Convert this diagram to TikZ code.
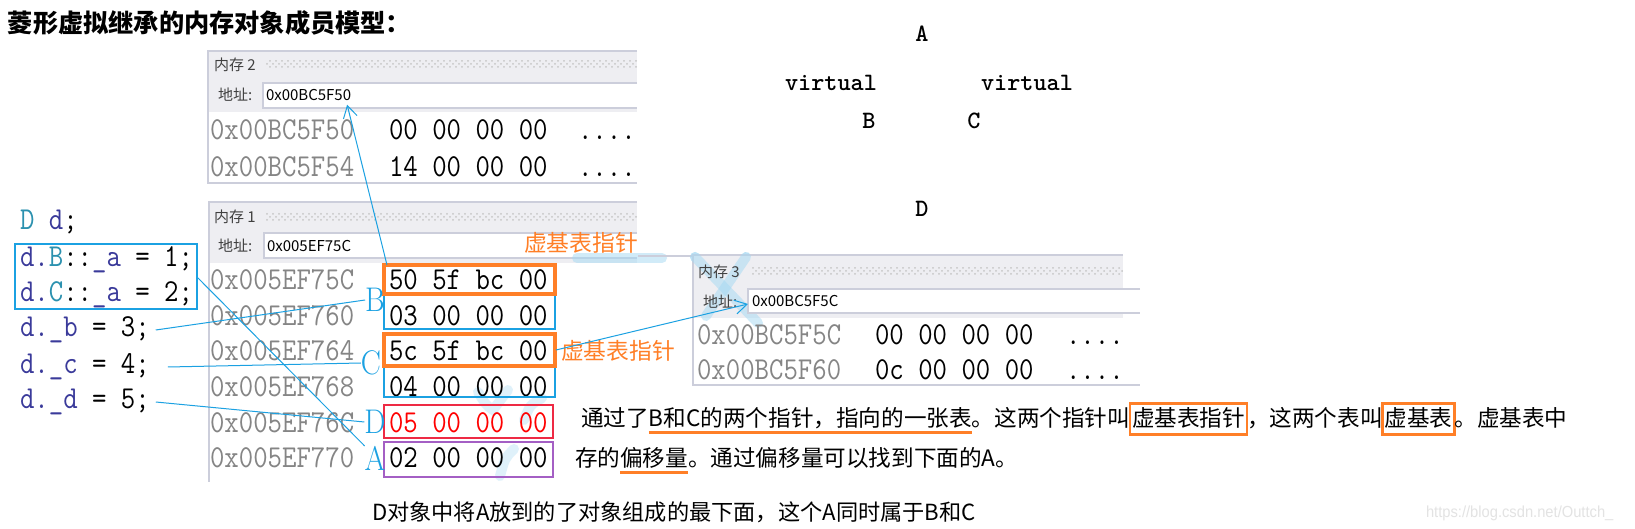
\documentclass[tikz,border=0pt]{standalone}
\usepackage{fontspec}
\newfontfamily\cjk{Noto Sans CJK SC}
\setsansfont{Liberation Sans}
\usepackage{tikz}
\usetikzlibrary{positioning,arrows.meta,patterns}

\definecolor{vsblue}{HTML}{1BA1E2}
\definecolor{ptrorange}{HTML}{FF7F27}
\definecolor{hdrgray}{HTML}{EEEEF2}
\definecolor{frmgray}{HTML}{CCCEDB}
\definecolor{adrgray}{HTML}{858585}
\definecolor{clsteal}{HTML}{2B91AF}
\definecolor{varnavy}{HTML}{3A3A9A}
\definecolor{offpurple}{HTML}{A45FC4}
\definecolor{valred}{HTML}{EE2A44}

\newcommand{\fsz}[1]{\fontsize{#1}{#1}\selectfont}
\newcommand{\tall}[1]{\scalebox{1}[1.14]{#1}}

\begin{document}
\begin{tikzpicture}[x=0.5pt,y=-0.5pt,
    every node/.style={inner sep=0pt,outer sep=0pt},
    frame/.style={draw=frmgray,line width=0.6pt},
    wintxt/.style={font=\cjk\fsz{7.5pt},text=black!75,anchor=west},
    memadr/.style={font=\ttfamily\fsz{14pt},text=adrgray,anchor=west},
    membyt/.style={font=\ttfamily\fsz{14pt},text=black,anchor=west},
    code/.style={font=\ttfamily\fsz{14pt},anchor=west,text height=0.62em,text depth=0pt},
    memlbl/.style={font=\rmfamily\fsz{15pt},text=vsblue},
    ptrlbl/.style={font=\cjk\fsz{11.4pt},text=ptrorange},
    link/.style={draw=vsblue,line width=0.5pt},
    ptr/.style={link,-{Straight Barb[length=6pt,width=7pt]}},
    para/.style={font=\cjk\fsz{11.3pt},text height=0.88em,text depth=0.12em},
    hlword/.style={draw=ptrorange,line width=1.2pt,inner xsep=1pt,inner ysep=2.8pt},
    uline/.style={draw=ptrorange,line width=1.5pt},
    dmd/.style={font=\ttfamily\bfseries\fsz{12.5pt}},
    smear/.style={draw=vsblue!40,line width=5pt,opacity=0.5,line cap=round}
  ]
  % Canvas
  \useasboundingbox (0,0) rectangle (1635,529);
  \fill[white] (0,0) rectangle (1635,529);

  % Title
  \node[font=\cjk\bfseries\fsz{12.6pt},anchor=west] (title) at (8,23) {菱形虚拟继承的内存对象成员模型：};

  % Memory window 2
  \fill[hdrgray] (208,51) rectangle (637,112);
  \fill[white] (208,112) rectangle (637,183);
  \draw[frame] (637,51) -- (208,51) -- (208,183) -- (637,183);
  \fill[pattern=crosshatch dots,pattern color=gray!45] (265,61) rectangle (637,69);
  \node[wintxt] (m2ttl) at (214,65) {内存 2};
  \node[wintxt] (m2lbl) at (218,95) {地址:};
  \fill[white] (263,83) rectangle (637,108);
  \draw[frame] (637,83) -- (263,83) -- (263,108) -- (637,108);
  \node[wintxt,text=black] (m2adr) at (266,95) {0x00BC5F50};
  \foreach \i/\adr/\byt in {0/0x00BC5F50/00 00 00 00, 1/0x00BC5F54/14 00 00 00}{
    \node[memadr] (m2a\i) at (210,130+37*\i) {\tall{\adr}};
    \node[membyt] (m2b\i) at (389,130+37*\i) {\tall{\byt}};
    \node[membyt] (m2d\i) at (578,130+37*\i) {\tall{\vphantom{0}....}};
  }

  % Memory window 1
  \fill[hdrgray] (209,202) rectangle (637,263);
  \fill[white] (209,263) rectangle (637,529);
  \draw[frame] (637,202) -- (209,202) -- (209,482);
  \fill[pattern=crosshatch dots,pattern color=gray!45] (266,213) rectangle (637,221);
  \node[wintxt] (m1ttl) at (214,217) {内存 1};
  \node[wintxt] (m1lbl) at (218,246) {地址:};
  \fill[white] (264,233) rectangle (637,258);
  \draw[frame] (637,233) -- (264,233) -- (264,258) -- (637,258);
  \node[wintxt,text=black] (m1adr) at (267,246) {0x005EF75C};
  \node[ptrlbl] (vbt1) at (581,243) {虚基表指针};
  % Smears
  \draw[smear] (577,258) -- (662,258);
  \draw[smear] (695,257) -- (758,323);
  \draw[smear] (746,257) -- (706,316);
  \draw[smear,opacity=0.35] (478,392) .. controls (486,405) .. (493,410) .. controls (500,400) .. (508,390);
  \draw[smear,opacity=0.35] (524,420) .. controls (530,405) .. (542,398);
  \draw[smear,opacity=0.35] (500,476) .. controls (505,458) .. (514,449);
  \foreach \i/\adr/\byt/\col in {0/0x005EF75C/50 5f bc 00/black, 1/0x005EF760/03 00 00 00/black,
      2/0x005EF764/5c 5f bc 00/black, 3/0x005EF768/04 00 00 00/black,
      4/0x005EF76C/05 00 00 00/red, 5/0x005EF770/02 00 00 00/black}{
    \node[memadr] (m1a\i) at (210,280+35.6*\i) {\tall{\adr}};
    \node[membyt,text=\col] (m1b\i) at (389,280+35.6*\i) {\tall{\byt}};
  }
  % member boxes
  \draw[vsblue,line width=1pt] (384,265) rectangle (555,329);
  \draw[vsblue,line width=1pt] (384,334) rectangle (555,397);
  \draw[ptrorange,line width=1.6pt] (384,265) rectangle (555,294);
  \draw[ptrorange,line width=1.6pt] (384,334) rectangle (555,366);
  \draw[valred,line width=0.6pt] (384,405) rectangle (553,438);
  \draw[offpurple,line width=0.6pt] (384,442) rectangle (553,477);
  \coordinate (vbp1) at (387,265);
  \coordinate (vbp2) at (556,350);
  \node[memlbl] (labB) at (375,300) {\tall{B}};
  \node[memlbl] (labC) at (371,363) {\tall{C}};
  \node[memlbl] (labD) at (375,422) {\tall{D}};
  \node[memlbl] (labA) at (375,458) {\tall{A}};
  \node[ptrlbl] (vbt2) at (618,351) {虚基表指针};

  % Memory window 3
  \draw[draw=frmgray,line width=0.6pt] (638,256) -- (693,256);
  \fill[hdrgray] (693,255) rectangle (1123,318);
  \fill[white] (693,318) rectangle (1140,385);
  \draw[frame] (1123,255) -- (693,255) -- (693,385) -- (1140,385);
  \fill[pattern=crosshatch dots,pattern color=gray!45] (752,268) rectangle (1123,276);
  \draw[smear] (695,257) -- (758,323);
  \draw[smear] (746,257) -- (706,316);
  \node[wintxt] (m3ttl) at (698,272) {内存 3};
  \node[wintxt] (m3lbl) at (703,302) {地址:};
  \fill[white] (748,289) rectangle (1140,313);
  \draw[frame] (1140,289) -- (748,289) -- (748,313) -- (1140,313);
  \node[wintxt,text=black] (m3adr) at (752,301) {0x00BC5F5C};
  \foreach \i/\adr/\byt in {0/0x00BC5F5C/00 00 00 00, 1/0x00BC5F60/0c 00 00 00}{
    \node[memadr] (m3a\i) at (697,335+35*\i) {\tall{\adr}};
    \node[membyt] (m3b\i) at (875,335+35*\i) {\tall{\byt}};
    \node[membyt] (m3d\i) at (1066,335+35*\i) {\tall{\vphantom{0}....}};
  }

  % Source lines
  \node[code] (cD) at (20,223) {\tall{\textcolor{clsteal}{D} \textcolor{varnavy}{d};}};
  \node[code] (cB) at (20,260) {\tall{\textcolor{varnavy}{d.}\textcolor{clsteal}{B}::\textcolor{varnavy}{\_a} = 1;}};
  \node[code] (cC) at (20,295) {\tall{\textcolor{varnavy}{d.}\textcolor{clsteal}{C}::\textcolor{varnavy}{\_a} = 2;}};
  \node[code] (cb) at (20,330) {\tall{\textcolor{varnavy}{d.\_b} = 3;}};
  \node[code] (cc) at (20,367) {\tall{\textcolor{varnavy}{d.\_c} = 4;}};
  \node[code] (cd) at (20,402) {\tall{\textcolor{varnavy}{d.\_d} = 5;}};
  \draw[vsblue,line width=0.6pt] (15,244) rectangle (197,309);
  \coordinate (boxE) at (197,277);

  % Connectors
  \draw[link] (boxE) -- (labA.north west);
  \draw[link] ([xshift=3pt]cb.east) -- (labB.west);
  \draw[link] ([xshift=9pt]cc.east) -- (labC.west);
  \draw[link] ([xshift=3pt]cd.east) -- (labD.west);
  \draw[ptr] (vbp1) -- ([xshift=-2pt,yshift=-2pt]m2adr.south east);
  \draw[ptr] (vbp2) -- ([xshift=-2pt,yshift=-1.5pt]m3adr.west);

  % Diamond
  \node[dmd] (dA) at (922,34) {A};
  \node[dmd] (vL) at (831,83) {virtual};
  \node[dmd] (vR) at (1027,83) {virtual};
  \node[dmd] (dB) at (869,121) {B};
  \node[dmd] (dC) at (974,121) {C};
  \node[dmd] (dD) at (922,209) {D};

  % Notes
  \node[para,anchor=west] (ln1a) at (581,419) {通过了};
  \node[para,right=0pt of ln1a] (ln1b) {B和C的两个指针，指向的一张表};
  \node[para,right=0pt of ln1b] (ln1c) {。这两个指针叫};
  \node[para,hlword,right=0pt of ln1c] (ln1d) {虚基表指针};
  \node[para,right=0pt of ln1d] (ln1e) {，这两个表叫};
  \node[para,hlword,right=0pt of ln1e] (ln1f) {虚基表};
  \node[para,right=0pt of ln1f] (ln1g) {。虚基表中};
  \draw[uline] ([yshift=-2pt]ln1b.south west) -- ([yshift=-2pt]ln1b.south east);
  \node[para,anchor=west] (ln2a) at (575,459) {存的};
  \node[para,right=0pt of ln2a] (ln2b) {偏移量};
  \node[para,right=0pt of ln2b] (ln2c) {。通过偏移量可以找到下面的A。};
  \draw[uline] ([yshift=-2pt]ln2b.south west) -- ([yshift=-2pt]ln2b.south east);
  \node[para,font=\cjk\fsz{11.1pt},anchor=west] (ln3) at (372,513) {D对象中将A放到的了对象组成的最下面，这个A同时属于B和C};
  \node[font=\sffamily\fsz{8pt},text=gray!22,anchor=west] (wmurl) at (1426,513) {\scalebox{0.92}[1]{https://blog.csdn.net/Outtch\_}};
\end{tikzpicture}
\end{document}
